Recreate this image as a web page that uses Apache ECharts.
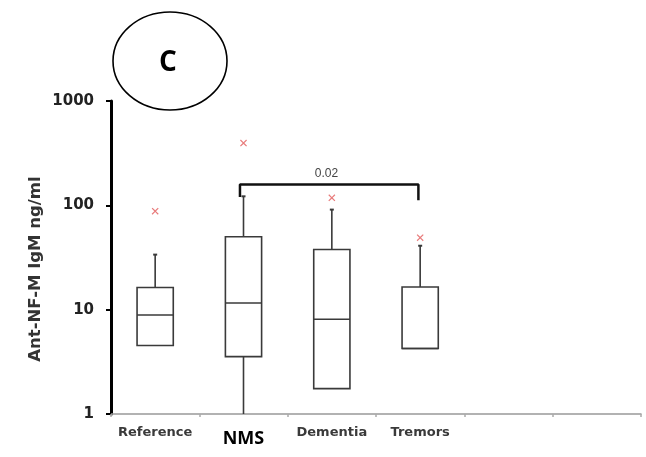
<!DOCTYPE html>
<html>
<head>
<meta charset="utf-8">
<style>
  html, body { margin: 0; padding: 0; background: #fff; }
  #chart { width: 646px; height: 457px; }
</style>
<script src="https://cdn.jsdelivr.net/npm/echarts@6/dist/echarts.min.js"></script>
</head>
<body>
<div id="chart"></div>
<script>
// Groups along the x axis (six slots, last two empty)
const groups = ['Reference', 'NMS', 'Dementia', 'Tremors', '', ''];

// Anti-NF-M IgM (ng/ml) summary per group
const whiskerLow  = [4.54, 1.0, 1.75, 4.25];
const quartile1   = [4.54, 3.55, 1.75, 4.25];
const medians     = [8.9, 11.6, 8.1, 4.25];
const quartile3   = [16.3, 50, 37.7, 16.5];
const whiskerHigh = [33.7, 122, 91, 41];
const outliers    = [88, 395, 118, 49];

// Y tick values
const yTicks = [1, 10, 100, 1000];

// Significance bracket NMS vs Tremors
const pLabel = '0.02';
const bracketFrom = 1;
const bracketTo = 3;
const bracketTop = 158;
const bracketLegLeft = 120;
const bracketLegRight = 112;

const boxData = whiskerLow.map((v, i) => [i, v, quartile1[i], medians[i], quartile3[i], whiskerHigh[i]]);
const outlierData = outliers.map((v, i) => [i, v]);

const xL = bracketFrom - 0.04;
const xR = bracketTo - 0.02;
const bracketData = [[xL, bracketLegLeft], [xL, bracketTop], [xR, bracketTop], [xR, bracketLegRight]];

const boxColor = '#3a3a3a';

function renderBox(params, api) {
  const x = api.value(0);
  const lo = api.coord([x, api.value(1)]);
  const q1 = api.coord([x, api.value(2)]);
  const md = api.coord([x, api.value(3)]);
  const q3 = api.coord([x, api.value(4)]);
  const hi = api.coord([x, api.value(5)]);
  const w = api.size([0.41, 0])[0];
  const cx = q1[0];
  const style = { stroke: boxColor, lineWidth: 1.6, fill: null };
  const children = [
    { type: 'rect', shape: { x: cx - w / 2, y: q3[1], width: w, height: q1[1] - q3[1] },
      style: { stroke: boxColor, lineWidth: 1.6, fill: '#fff' } },
    { type: 'line', shape: { x1: cx - w / 2, y1: md[1], x2: cx + w / 2, y2: md[1] }, style: style },
    { type: 'line', shape: { x1: cx, y1: q3[1], x2: cx, y2: hi[1] }, style: style },
    { type: 'line', shape: { x1: cx - 2, y1: hi[1], x2: cx + 2, y2: hi[1] }, style: { stroke: boxColor, lineWidth: 2 } }
  ];
  if (lo[1] > q1[1] + 0.5) {
    children.push({ type: 'line', shape: { x1: cx, y1: q1[1], x2: cx, y2: lo[1] }, style: style });
  }
  return { type: 'group', children: children };
}

const chart = echarts.init(document.getElementById('chart'), null, { renderer: 'canvas' });

chart.setOption({
  animation: false,
  backgroundColor: '#ffffff',
  grid: { left: 111, right: 5, top: 101, bottom: 43, containLabel: false },
  xAxis: [
    {
      type: 'category',
      data: groups,
      boundaryGap: true,
      axisLine: { show: true, onZero: false, lineStyle: { color: '#999', width: 1.5 } },
      axisTick: { show: true, interval: 0, length: 3, lineStyle: { color: '#aaa', width: 1.5 } },
      axisLabel: {
        interval: 0,
        margin: 12,
        formatter: function (v, i) { return i === 1 ? '{n|' + v + '}' : '{a|' + v + '}'; },
        rich: {
          a: { fontFamily: 'DejaVu Sans, sans-serif', fontWeight: 'bold', fontSize: 13, color: '#3a3a3a' },
          n: { fontFamily: 'Open Sans, Noto Sans, sans-serif', fontWeight: 'bold', fontSize: 18, color: '#000', padding: [4, 0, 0, 0] }
        }
      },
      splitLine: { show: false }
    },
    {
      type: 'value',
      min: -0.5,
      max: 5.5,
      show: false,
      position: 'bottom'
    }
  ],
  yAxis: {
    type: 'log',
    logBase: 10,
    min: yTicks[0],
    max: yTicks[yTicks.length - 1],
    splitNumber: 3,
    axisLine: { show: true, onZero: false, lineStyle: { color: '#000', width: 3 } },
    axisTick: { show: true, length: 5, lineStyle: { color: '#000', width: 2 } },
    minorTick: { show: false },
    splitLine: { show: false },
    axisLabel: {
      margin: 17,
      formatter: function (v) { return String(Math.round(v)); },
      fontFamily: 'DejaVu Sans, sans-serif',
      fontWeight: 'bold',
      fontSize: 15,
      color: '#222'
    }
  },
  series: [
    {
      type: 'custom',
      xAxisIndex: 1,
      renderItem: renderBox,
      encode: { x: 0, y: [1, 2, 3, 4, 5] },
      data: boxData,
      z: 2
    },
    {
      type: 'scatter',
      xAxisIndex: 1,
      symbol: 'path://M0,1.2L1.2,0L5,3.8L8.8,0L10,1.2L6.2,5L10,8.8L8.8,10L5,6.2L1.2,10L0,8.8L3.8,5Z',
      symbolSize: 7,
      itemStyle: { color: '#e25a5a' },
      data: outlierData,
      z: 3
    },
    {
      type: 'line',
      xAxisIndex: 1,
      data: bracketData,
      showSymbol: false,
      symbol: 'none',
      lineStyle: { color: '#111', width: 2.5 },
      markPoint: {
        symbol: 'rect',
        symbolSize: 1,
        itemStyle: { color: 'transparent' },
        label: {
          show: true,
          position: 'top',
          distance: 4,
          formatter: pLabel,
          fontFamily: 'Liberation Sans, Arial, sans-serif',
          fontSize: 12,
          color: '#444'
        },
        data: [{ coord: [(xL + xR) / 2 - 0.03, bracketTop] }]
      },
      z: 4
    }
  ],
  graphic: [
    {
      type: 'ellipse',
      shape: { cx: 170, cy: 61, rx: 57, ry: 49 },
      style: { stroke: '#000', lineWidth: 1.6, fill: 'none' }
    },
    {
      type: 'text',
      x: 168,
      y: 63,
      style: {
        text: 'C',
        fontFamily: 'Open Sans, Noto Sans, sans-serif',
        fontWeight: 'bold',
        fontSize: 28,
        fill: '#000',
        align: 'center',
        verticalAlign: 'middle'
      }
    },
    {
      type: 'text',
      x: 36,
      y: 269,
      rotation: Math.PI / 2,
      style: {
        text: 'Ant-NF-M IgM ng/ml',
        fontFamily: 'DejaVu Sans, sans-serif',
        fontWeight: 'bold',
        fontSize: 16.5,
        fill: '#333',
        align: 'center',
        verticalAlign: 'middle'
      }
    }
  ]
});
</script>
</body>
</html>
